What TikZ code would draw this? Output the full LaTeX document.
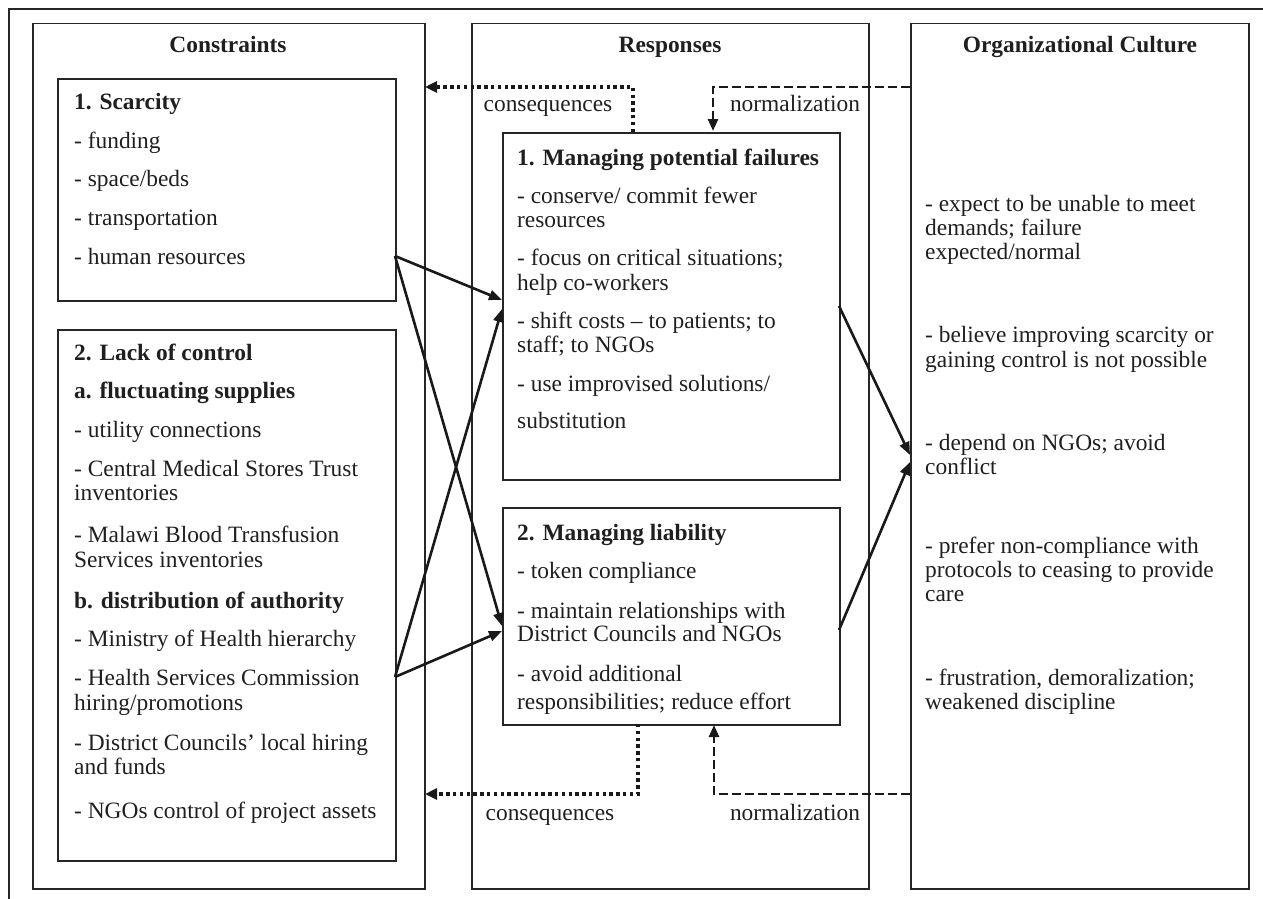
\documentclass[tikz,border=0pt]{standalone}
\usepackage{fontspec}
\setmainfont{Liberation Serif}
\usetikzlibrary{arrows.meta}
\newcommand{\fsz}{\fontsize{23.4}{24}\selectfont}
\begin{document}
\begin{tikzpicture}[x=1pt,y=-1pt,
  box/.style={draw=black!85, line width=1.5pt, inner sep=0pt, anchor=north west},
  txt/.style={anchor=mid west, inner sep=0pt, font=\fsz, text=black!88, yshift=-6pt},
  hd/.style={txt, font=\fsz\bfseries},
  ttl/.style={anchor=mid, inner sep=0pt, font=\fsz\bfseries, text=black!88, yshift=-6pt},
  lbl/.style={anchor=mid, inner sep=0pt, font=\fsz, text=black!88, yshift=-6pt},
  arr/.style={line width=2.6pt, draw=black!90, -{Triangle[length=13pt,width=10pt]}},
  dotarr/.style={line width=3.4pt, draw=black!90, dash pattern=on 3.4pt off 3.4pt, -{Triangle[length=12pt,width=11pt]}},
  dasharr/.style={line width=2.6pt, draw=black!90, dash pattern=on 9pt off 4pt, -{Triangle[length=12pt,width=10pt]}},
  frame/.style={line width=1.5pt, draw=black!85}]
\useasboundingbox (0,0) rectangle (1263,899);
% outer frame lines
\coordinate (f0) at (9,899);
\coordinate (f1) at (9,9);
\coordinate (f2) at (1263,9);
\draw[frame] (f0) -- (f1) -- (f2);
% columns
\node[box, minimum width=392pt, minimum height=865pt] (colC) at (32,23) {};
\node[box, minimum width=397pt, minimum height=865pt] (colR) at (471,23) {};
\node[box, minimum width=338pt, minimum height=865pt] (colO) at (910,23) {};
% inner boxes
\node[box, minimum width=338pt, minimum height=222pt] (scar) at (57,78) {};
\node[box, minimum width=338pt, minimum height=531pt] (lack) at (57,329) {};
\node[box, minimum width=337pt, minimum height=347pt] (mpf) at (502,132) {};
\node[box, minimum width=337pt, minimum height=217pt] (mli) at (502,507) {};
% titles
\node[ttl] (tC) at (228,44) {Constraints};
\node[ttl] (tR) at (670,44) {Responses};
\node[ttl] (tO) at (1080,44) {Organizational Culture};
% constraints text
\node[hd] (c1) at (74,101) {1. Scarcity};
\node[txt] (c2) at (74,140) {- funding};
\node[txt] (c3) at (74,178) {- space/beds};
\node[txt] (c4) at (74,217) {- transportation};
\node[txt] (c5) at (74,256) {- human resources};
\node[hd] (c6) at (74,352) {2. Lack of control};
\node[hd] (c7) at (74,390) {a. fluctuating supplies};
\node[txt] (c8) at (74,429) {- utility connections};
\node[txt] (c9) at (74,468) {- Central Medical Stores Trust};
\node[txt] (c10) at (74,492) {inventories};
\node[txt] (c11) at (74,534) {- Malawi Blood Transfusion};
\node[txt] (c12) at (74,559) {Services inventories};
\node[hd] (c13) at (74,600) {b. distribution of authority};
\node[txt] (c14) at (74,638) {- Ministry of Health hierarchy};
\node[txt] (c15) at (74,677) {- Health Services Commission};
\node[txt] (c16) at (74,702) {hiring/promotions};
\node[txt] (c17) at (74,742) {- District Councils' local hiring};
\node[txt] (c18) at (74,766) {and funds};
\node[txt] (c19) at (74,810) {- NGOs control of project assets};
% responses text
\node[hd] (r1) at (517,157) {1. Managing potential failures};
\node[txt] (r2) at (517,195) {- conserve/ commit fewer};
\node[txt] (r3) at (517,219) {resources};
\node[txt] (r4) at (517,257) {- focus on critical situations;};
\node[txt] (r5) at (517,282) {help co-workers};
\node[txt] (r6) at (517,320) {- shift costs -- to patients; to};
\node[txt] (r7) at (517,344) {staff; to NGOs};
\node[txt] (r8) at (517,383) {- use improvised solutions/};
\node[txt] (r9) at (517,420) {substitution};
\node[hd] (r10) at (517,532) {2. Managing liability};
\node[txt] (r11) at (517,570) {- token compliance};
\node[txt] (r12) at (517,610) {- maintain relationships with};
\node[txt] (r13) at (517,633) {District Councils and NGOs};
\node[txt] (r14) at (517,673) {- avoid additional};
\node[txt] (r15) at (517,701) {responsibilities; reduce effort};
% organizational culture text
\node[txt] (o1) at (925,203) {- expect to be unable to meet};
\node[txt] (o2) at (925,227) {demands; failure};
\node[txt] (o3) at (925,251) {expected/normal};
\node[txt] (o4) at (925,334) {- believe improving scarcity or};
\node[txt] (o5) at (925,359) {gaining control is not possible};
\node[txt] (o6) at (925,442) {- depend on NGOs; avoid};
\node[txt] (o7) at (925,466) {conflict};
\node[txt] (o8) at (925,545) {- prefer non-compliance with};
\node[txt] (o9) at (925,569) {protocols to ceasing to provide};
\node[txt] (o10) at (925,593) {care};
\node[txt] (o11) at (925,677) {- frustration, demoralization;};
\node[txt] (o12) at (925,701) {weakened discipline};
% connector labels
\node[lbl] (l1) at (548,103) {consequences};
\node[lbl] (l2) at (795,103) {normalization};
\node[lbl] (l3) at (550,812) {consequences};
\node[lbl] (l4) at (795,812) {normalization};
% connector endpoints
\coordinate (hr) at (395,256);
\coordinate (hsc) at (395,677);
\coordinate (m1a) at (502,300);
\coordinate (m1b) at (502,309);
\coordinate (m2a) at (502,626);
\coordinate (m2b) at (502,631);
\coordinate (m1r) at (839,306);
\coordinate (m2r) at (839,630);
\coordinate (oa) at (910,455);
\coordinate (ob) at (910,462);
% solid arrows
\draw[arr] (hr) -- (m1a);
\draw[arr] (hr) -- (m2a);
\draw[arr] (hsc) -- (m1b);
\draw[arr] (hsc) -- (m2b);
\draw[arr] (m1r) -- (oa);
\draw[arr] (m2r) -- (ob);
% feedback arrows
\coordinate (ct) at (633,132);
\coordinate (ctc) at (633,87);
\coordinate (ctl) at (425,87);
\draw[dotarr] (ct) -- (ctc) -- (ctl);
\coordinate (cb) at (638,724);
\coordinate (cbc) at (638,794);
\coordinate (cbl) at (425,794);
\draw[dotarr] (cb) -- (cbc) -- (cbl);
\coordinate (nt) at (910,87);
\coordinate (ntc) at (713,87);
\coordinate (ntb) at (713,131);
\draw[dasharr] (nt) -- (ntc) -- (ntb);
\coordinate (nb) at (910,794);
\coordinate (nbc) at (714,794);
\coordinate (nbt) at (714,725);
\draw[dasharr] (nb) -- (nbc) -- (nbt);
\end{tikzpicture}
\end{document}
